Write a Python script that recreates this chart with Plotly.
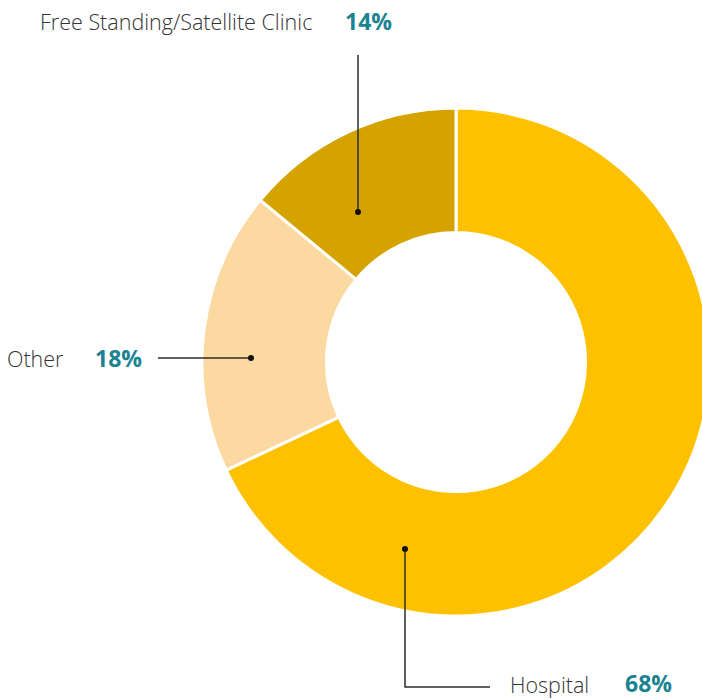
import plotly.graph_objects as go

# ---- data ----
labels = ["Hospital", "Other", "Free Standing/Satellite Clinic"]
values = [68, 18, 14]
pct_text = ["68%", "18%", "14%"]
colors = ["#FDC100", "#FDD9A2", "#D5A300"]

W, H = 712, 700
CX, CY, R = 456, 362, 254  # donut center / radius in px


def px(x):
    return x / W


def py(y):
    return 1 - y / H


fig = go.Figure()
fig.add_trace(go.Pie(
    labels=labels,
    values=values,
    hole=0.51,
    sort=False,
    direction="clockwise",
    rotation=0,
    marker=dict(colors=colors, line=dict(color="white", width=3)),
    textinfo="none",
    hoverinfo="label+percent",
    showlegend=False,
    domain=dict(x=[px(CX - R), px(CX + R)], y=[py(CY + R), py(CY - R)]),
))

LINE = dict(color="#2b2b2b", width=1.5)
shapes = []
# leader lines
shapes.append(dict(type="line", xref="paper", yref="paper",
                   x0=px(358), x1=px(358), y0=py(55), y1=py(212), line=LINE))
shapes.append(dict(type="line", xref="paper", yref="paper",
                   x0=px(158), x1=px(251), y0=py(358), y1=py(358), line=LINE))
shapes.append(dict(type="path", xref="paper", yref="paper",
                   path=f"M {px(405)},{py(549)} L {px(405)},{py(687)} L {px(490)},{py(687)}",
                   line=LINE))
# dots
for (dx, dy) in [(358, 212), (251, 358), (405, 549)]:
    r = 3
    shapes.append(dict(type="circle", xref="paper", yref="paper",
                       x0=px(dx - r), x1=px(dx + r), y0=py(dy + r), y1=py(dy - r),
                       fillcolor="#111", line=dict(width=0)))

FONT = "Open Sans"
label_font = dict(family=FONT, size=21.5, color="#333333", weight=300)
pct_font = dict(family=FONT, size=23, color="#1A8391", weight=700)

ann = []
# Free Standing
ann.append(dict(text=labels[2], x=px(39), y=py(21), yanchor="middle", font=label_font))
ann.append(dict(text=pct_text[2], x=px(344), y=py(21), yanchor="middle", font=pct_font))
# Other
ann.append(dict(text=labels[1], x=px(6), y=py(358), yanchor="middle", font=label_font))
ann.append(dict(text=pct_text[1], x=px(94), y=py(358), yanchor="middle", font=pct_font))
# Hospital (kept inside the bottom edge)
ann.append(dict(text=labels[0], x=px(509), y=0, yanchor="bottom", font=label_font))
ann.append(dict(text=pct_text[0], x=px(624), y=0, yanchor="bottom", font=pct_font))
for a in ann:
    a.update(xref="paper", yref="paper", xanchor="left", showarrow=False,
             borderpad=0)

fig.update_layout(
    width=W, height=H, autosize=False,
    margin=dict(l=0, r=0, t=0, b=0),
    paper_bgcolor="white", plot_bgcolor="white",
    shapes=shapes, annotations=ann,
)

fig.write_html("out.html", config={"displayModeBar": False},
               post_script="document.body.style.overflow='hidden';document.body.style.margin='0';")
